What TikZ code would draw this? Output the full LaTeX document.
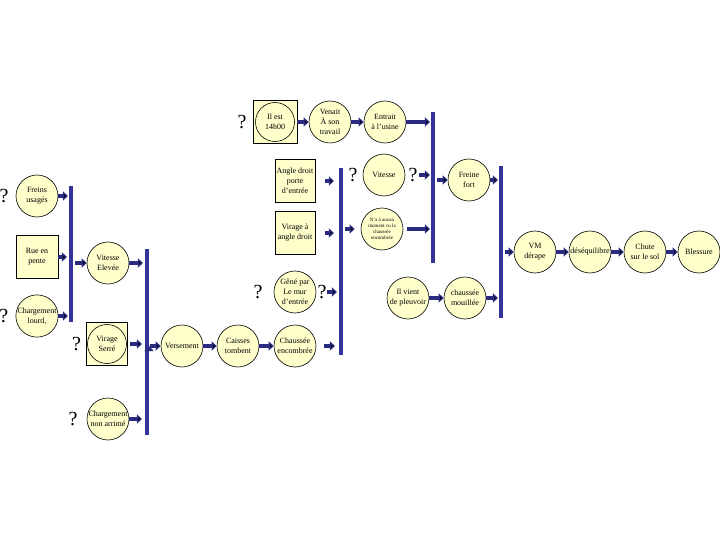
\documentclass[tikz,border=0pt]{standalone}
\usepackage{fontspec}
\setmainfont{Liberation Serif}
\usetikzlibrary{arrows.meta, positioning}

\definecolor{pale}{RGB}{255,255,204}
\definecolor{barblue}{RGB}{51,51,153}
\definecolor{arrblue}{RGB}{42,42,128}

\begin{document}
\begin{tikzpicture}[
	x=1pt, y=-1pt,
	node distance=55pt,
	font=\fontsize{8}{10}\selectfont,
	line width=0.6pt
]

\tikzstyle{fait}  = [circle, draw, fill=pale, minimum size=42pt, inner sep=0pt, align=center];
\tikzstyle{cadre} = [rectangle, draw, fill=pale, minimum width=42pt, minimum height=43pt, inner sep=0pt, align=center];
\tikzstyle{barre} = [rectangle, fill=barblue, minimum width=3.5pt, inner sep=0pt];
\tikzstyle{qm}    = [inner sep=0pt, font=\fontsize{20}{20}\selectfont];
\tikzstyle{blk}   = [draw=arrblue, line width=3.5pt, -{Triangle[length=5pt,width=9pt]}];

 \useasboundingbox (0,0) rectangle (720,540);

% haut
 \node [cadre, minimum width=44pt] (ieb) at (275,122)         {};
 \node [fait, minimum size=39pt]   (ie)  at (ieb)             {Il est\\14h00};
 \node [fait]                      (va)  [right of=ie]        {Venait\\À son\\travail};
 \node [fait]                      (en)  [right of=va]        {Entrait\\à l'usine};
 \node [cadre, minimum width=40pt] (ad)  at (295,181)         {Angle droit\\porte\\d'entrée};
 \node [fait]                      (vi)  at (384,175)         {Vitesse};
 \node [fait]                      (ff)  at (469,180)         {Freine\\fort};
 \node [cadre, minimum width=40pt] (vad) at (295,233)         {Virage à\\angle droit};
 \node [fait, font=\fontsize{5}{6}\selectfont]
                                   (nc)  at (382,229)         {N'a à aucun\\moment vu la\\chaussée\\encombrée};
 \node [fait]                      (gp)  at (295,292)         {Gêné par\\Le mur\\d'entrée};
 \node [fait]                      (iv)  at (408,298)         {Il vient\\de pleuvoir};
 \node [fait]                      (cm)  [right of=iv, node distance=57pt] {chaussée\\mouillée};

% droite
 \node [fait]                      (vm)  at (535,252)         {VM\\dérape};
 \node [fait]                      (de)  [right of=vm]        {déséquilibre};
 \node [fait]                      (ch)  [right of=de]        {Chute\\sur le sol};
 \node [fait]                      (bl)  [right of=ch, node distance=54pt] {Blessure};

% gauche
 \node [fait]                      (fu)  at (37,196)          {Freins\\usagés};
 \node [cadre]                     (rp)  [below of=fu, node distance=61pt] {Rue en\\pente};
 \node [fait]                      (cl)  [below of=rp, node distance=59pt] {Chargement\\lourd,};
 \node [fait]                      (ve)  at (108,263)         {Vitesse\\Elevée};
 \node [cadre, minimum width=41pt] (vsb) at (107,344)         {};
 \node [fait, minimum size=39pt]   (vs)  at (vsb)             {Virage\\Serré};
 \node [fait]                      (cna) at (108,419)         {Chargement\\non arrimé};
 \node [fait]                      (vr)  at (182,346)         {Versement};
 \node [fait]                      (ct)  [right of=vr, node distance=56pt] {Caisses\\tombent};
 \node [fait]                      (ce)  [right of=ct, node distance=57pt] {Chaussée\\encombrée};

% barres
 \node [barre, minimum height=136pt] (b1) at (71,254)    {};
 \node [barre, minimum height=186pt] (b5) at (147,342)   {};
 \node [barre, minimum height=187pt] (b2) at (341,261.5) {};
 \node [barre, minimum height=151pt] (b3) at (433,187.5) {};
 \node [barre, minimum height=152pt] (b4) at (501,242)   {};

% points d'interrogation
 \node [qm] (q1) [left=6pt of ieb]  {?};
 \node [qm] (q2) [left=5pt of vi]   {?};
 \node [qm] (q3) [right=3pt of vi]  {?};
 \node [qm] (q4) [left=11pt of gp]  {?};
 \node [qm] (q5) [right=1pt of gp]  {?};
 \node [qm] (q6) [left=7pt of fu]   {?};
 \node [qm] (q7) [left=7pt of cl]   {?};
 \node [qm] (q8) [left=5pt of vsb]  {?};
 \node [qm] (q9) [left=9pt of cna]  {?};

 \path [blk] (ieb) edge                                   (va)
             (va)  edge                                   (en)
             (en)  edge [shorten >=1pt]                   (en -| b3.west)
             (ad)  edge [shorten <=10pt, shorten >=5pt]   (ad -| b2.west)
             (q3)  edge [shorten <=1pt, shorten >=1pt]    (q3 -| b3.west)
             (b3.east |- ff) edge [shorten <=2pt]         (ff)
             (ff)  edge [shorten >=1pt]                   (ff -| b4.west)
             (vad) edge [shorten <=10pt, shorten >=5pt]   (vad -| b2.west)
             (b2.east |- nc) edge [shorten <=2pt, shorten >=6pt] (nc)
             (nc)  edge [shorten <=4pt, shorten >=1pt]    (nc -| b3.west)
             (q5)  edge [shorten >=2pt]                   (q5 -| b2.west)
             (iv)  edge                                   (cm)
             (cm)  edge [shorten >=1pt]                   (cm -| b4.west)
             (b4.east |- vm) edge [shorten <=2pt]         (vm)
             (vm)  edge                                   (de)
             (de)  edge                                   (ch)
             (ch)  edge                                   (bl)
             (fu)  edge [shorten >=1pt]                   (fu -| b1.west)
             (rp)  edge [shorten >=2pt]                   (rp -| b1.west)
             (cl)  edge [shorten >=1pt]                   (cl -| b1.west)
             (b1.east |- ve) edge [shorten <=2pt]         (ve)
             (ve)  edge [shorten >=2pt]                   (ve -| b5.west)
             (vsb) edge [shorten <=2pt, shorten >=3pt]    (vsb -| b5.west)
             (cna) edge [shorten >=3pt]                   (cna -| b5.west)
             (b5.east |- vr) edge [shorten <=1pt]         (vr)
             (vr)  edge                                   (ct)
             (ct)  edge                                   (ce)
             (ce)  edge [shorten <=8pt, shorten >=4pt]    (ce -| b2.west);

\end{tikzpicture}
\end{document}
